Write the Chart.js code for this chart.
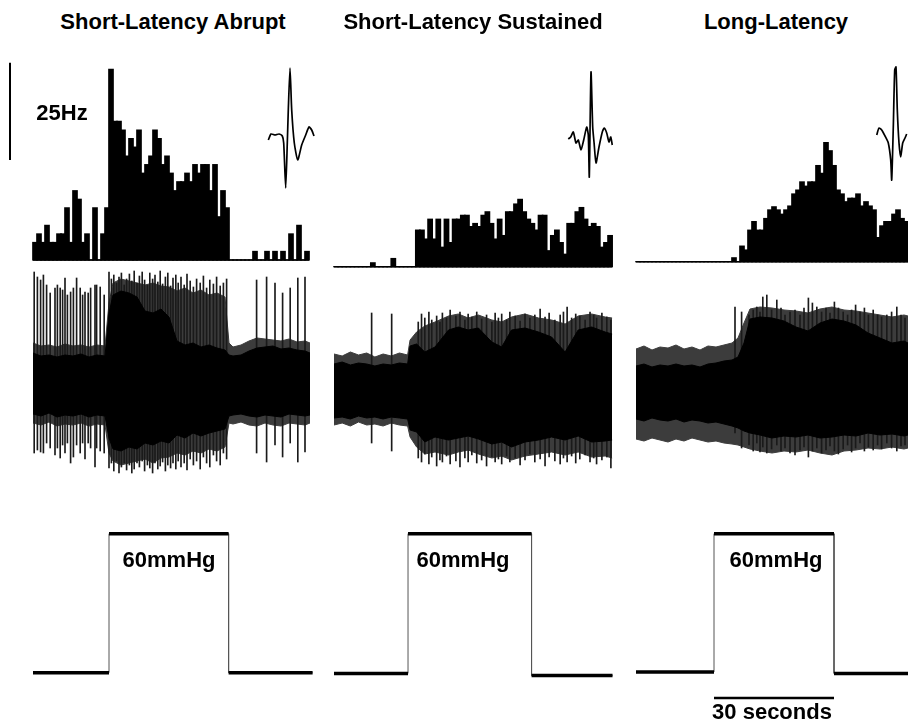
<!DOCTYPE html>
<html><head><meta charset="utf-8">
<script src="https://cdn.jsdelivr.net/npm/chart.js@4.4.0/dist/chart.umd.min.js"></script>
<style>
html,body{margin:0;padding:0;background:#fff;}
#wrap{position:relative;width:908px;height:724px;overflow:hidden;background:#fff;font-family:"Liberation Sans",Arial,sans-serif;font-weight:bold;color:#000;}
#wrap canvas{position:absolute;}
.lbl{position:absolute;font-size:22px;line-height:22px;white-space:nowrap;transform:translate(-50%,-50%);}
</style></head><body><div id="wrap"></div>
<script>
// ---------------- DATA ----------------
const panelTitles = ["Short-Latency Abrupt", "Short-Latency Sustained", "Long-Latency"];
const rateScaleLabel = "25Hz";
const rateScaleHz = 25;
const pressureLabel = "60mmHg";
const timeScaleLabel = "30 seconds";
const timeScaleSec = 30;

// firing-rate histograms (Hz, 1 s bins)
const hist1 = [4.5,6.7,4.5,8.9,4.5,4.5,6.7,6.7,13.4,4.5,17.8,15.6,4.5,6.7,0,13.4,0,6.7,13.4,49.0,35.6,35.6,33.4,26.7,31.2,29.0,33.4,22.3,24.5,26.7,33.4,31.2,24.5,26.7,22.3,17.8,20.1,20.1,22.3,20.1,24.5,22.3,24.5,24.5,17.8,24.5,11.1,17.8,13.4,0,0,0,0,0,0,2.2,0,0,2.2,0,2.2,0,2.2,0,6.7,0,8.9,0,2.2];
const hist2 = [0,0,0,0,0,0,0,0,0,1.0,0,0,0,0,2.1,0,0,0,0,0,9.4,9.4,7.1,12.2,7.1,12.2,5.0,12.2,6.2,12.2,12.2,13.2,13.2,10.3,11.1,10.3,13.2,14.1,11.1,7.1,12.2,8.0,14.1,14.1,16.1,17.3,14.1,12.2,11.1,9.4,13.2,13.2,4.1,8.0,9.4,6.2,3.2,11.1,11.1,14.1,15.2,12.2,10.3,11.1,10.3,5.0,6.2,8.0];
const hist3 = [0,0,0,0,0,0,0,0,0,0,0,0,0,0,0,0,0,0,0,0,0,0,0,0,1.0,0,4.0,3.0,8.1,10.3,8.1,8.1,11.1,13.3,14.1,13.3,12.2,13.3,14.3,17.4,18.4,20.5,19.4,20.5,20.5,24.7,22.7,30.6,28.5,24.7,18.4,17.4,15.4,16.3,16.3,17.4,14.3,15.4,14.3,13.3,6.2,9.2,10.3,10.3,12.2,13.3,11.1,10.3];
const rateScaleTopHz = 50.7;

// mean spike waveforms (time, amplitude a.u.)
const wave1T = [3.3,6,10,14,17.3,18.7,20.7,22.3,23.3,25,26.7,29.3,32.7,36.7,40.7,44,46.7,49];
const wave1V = [0,6,5,6,4,-3,-48,-3,30,72,30,-3,-20,-5,5,13,10,4];
const wave2T = [3.3,5.7,8.3,11,13.3,16,18.7,21.7,23.3,24.3,26,27.7,29,31,34,37.3,39.3,41.7,44,45.7,47.3];
const wave2V = [1,3,8,-3,0,-10,0,13,5,-37,68,13,-2,-23,-7,8,12,7,-2,3,-5];
const wave3T = [6.7,9,11.7,15,18.3,20.7,21.7,23.3,24.7,26,27.3,29,30.7,32.7,35,36.7];
const wave3V = [5,12,10,4,-3,-20,-40,13,70,73,30,-3,-17,-3,2,6];

// raw nerve recordings: dense noise band (core), fuzzy edge, and single spikes (a.u.)
const raw1T = [0,2,4,6,8,10,12,14,16,18,19,20,22,24,26,28,30,32,34,36,38,40,42,44,46,48,49,50,52,54,56,58,60,62,64,66,68,69.25];
const raw1CoreHi = [30,27,28,26,28,27,29,26,28,27,70,88,92,90,86,72,70,74,66,42,38,40,36,38,35,33,28,27,28,32,35,36,37,34,35,33,32,30];
const raw1CoreLo = [-31,-33,-30,-34,-32,-33,-31,-34,-32,-33,-55,-66,-68,-64,-66,-60,-62,-58,-60,-52,-55,-50,-53,-50,-48,-46,-33,-32,-31,-33,-34,-32,-33,-34,-31,-32,-33,-32];
const raw1FuzzHi = [40,37,38,36,39,37,38,36,38,37,80,100,104,102,100,98,100,97,96,92,95,90,93,88,90,86,40,36,38,42,45,44,43,42,44,41,42,40];
const raw1FuzzLo = [-40,-42,-39,-43,-41,-42,-40,-43,-41,-42,-70,-78,-82,-80,-78,-76,-80,-75,-74,-70,-72,-68,-70,-66,-68,-64,-40,-41,-39,-42,-43,-40,-42,-43,-40,-41,-42,-40];
const spike1T = [0.3,1.1,1.9,2.6,3.4,4.3,5.5,6.1,6.8,7.4,8.0,8.6,9.4,10.1,10.9,11.8,12.4,13.0,13.8,14.4,15.5,15.9,16.8,17.8,19.0,19.6,20.2,20.9,21.5,22.1,22.8,23.4,24.1,24.7,25.3,26.0,26.6,27.3,27.9,28.6,29.2,29.9,30.5,31.2,31.8,32.4,33.1,33.7,34.4,35.0,35.7,36.3,37.0,37.8,38.5,39.3,40.1,40.9,41.8,42.6,43.4,44.2,45.1,45.9,46.8,47.6,48.4,55.9,58.4,60.5,62.4,64.3,66.2,68.0];
const spike1Hi = [111,106,103,108,98,90,95,98,95,93,105,88,91,95,105,95,88,91,90,95,98,98,96,88,111,104,108,100,106,110,98,104,109,102,112,100,107,111,103,98,110,104,108,101,112,99,106,110,97,105,108,100,106,98,109,102,96,104,100,107,95,103,99,106,97,100,104,103,106,100,90,95,105,106];
const spike1Lo = [-70,-67,-69,-70,-60,-65,-72,-65,-75,-62,-70,-60,-80,-74,-62,-70,-60,-76,-60,-65,-84,-65,-68,-70,-85,-80,-88,-78,-90,-84,-80,-87,-82,-90,-86,-80,-84,-78,-88,-82,-85,-90,-80,-86,-83,-79,-88,-82,-85,-80,-86,-78,-84,-80,-87,-76,-82,-78,-86,-74,-80,-84,-72,-78,-82,-70,-76,-70,-79,-62,-74,-60,-79,-69];

const raw2T = [0,2,4,6,8,10,12,14,16,18,18.6,20.2,22.2,24.7,28,30.4,32.8,35.3,38.6,41,43.4,46.7,50,53.2,56.5,59.7,63,66.3,68];
const raw2CoreHi = [28,30,27,29,28,26,28,27,29,28,46,48,40,45,62,65,62,64,50,45,62,64,60,55,40,62,65,60,58];
const raw2CoreLo = [-26,-25,-27,-24,-26,-25,-27,-25,-26,-27,-38,-40,-50,-45,-48,-46,-44,-47,-52,-50,-55,-50,-48,-45,-48,-44,-50,-49,-48];
const raw2FuzzHi = [38,36,40,37,39,35,38,36,39,37,52,60,66,70,76,78,74,77,72,70,75,78,74,72,68,76,78,75,74];
const raw2FuzzLo = [-33,-31,-34,-30,-33,-32,-34,-31,-33,-34,-45,-55,-62,-60,-63,-60,-58,-62,-66,-64,-68,-64,-62,-60,-63,-60,-65,-64,-66];
const spike2T = [9.2,14.1,20.6,21.4,22.2,23.2,23.9,25.1,25.9,26.5,27.5,28.4,29.8,30.8,32.0,32.8,33.7,34.9,36.1,37.3,38.6,39.4,40.2,41.0,42.2,43.0,44.3,45.5,46.7,47.9,49.1,50.4,51.6,52.6,54.0,55.3,56.1,57.0,58.1,59.1,60.1,61.4,62.6,63.5,64.2,65.5,66.7,67.7];
const spike2Hi = [79,78,70,78,74,80,72,76,70,79,74,82,76,80,72,78,75,80,73,77,70,79,74,78,72,80,76,71,78,74,77,83,75,79,72,77,80,85,74,78,76,72,80,77,74,79,75,72];
const spike2Lo = [-51,-59,-66,-70,-62,-72,-65,-74,-68,-70,-64,-72,-69,-75,-66,-70,-63,-71,-68,-74,-65,-70,-67,-72,-64,-70,-66,-73,-68,-62,-70,-67,-74,-65,-69,-72,-66,-70,-64,-71,-67,-63,-70,-66,-72,-68,-65,-76];

const raw3T = [0,2,4,6,8,10,12,14,16,18,20,22,24,25.5,27,28.5,31,34,37,40,43,46,49,52,55,58,61,64,67,68];
const raw3CoreHi = [27,29,26,28,27,29,27,28,26,29,30,32,33,36,50,74,76,75,72,66,62,70,74,72,68,60,55,50,52,50];
const raw3CoreLo = [-26,-28,-25,-27,-28,-26,-29,-27,-28,-30,-29,-31,-33,-35,-38,-40,-42,-45,-43,-44,-42,-45,-44,-42,-43,-40,-42,-41,-43,-42];
const raw3FuzzHi = [44,47,43,46,45,48,44,46,43,47,46,48,50,55,70,84,86,85,83,82,80,84,86,83,82,80,78,76,78,77];
const raw3FuzzLo = [-46,-48,-45,-47,-49,-46,-48,-45,-47,-49,-48,-50,-51,-52,-54,-56,-58,-60,-58,-59,-57,-60,-62,-58,-57,-55,-56,-54,-56,-55];
const spike3T = [24.75,26.4,28.25,29.3,30.2,31.0,31.7,32.7,33.9,35.2,36.25,37.25,38.5,39.75,41.0,42.0,43.1,44.1,45.2,46.4,47.5,48.5,49.6,50.6,51.8,52.9,53.9,54.9,56.0,57.1,58.1,59.3,60.4,61.4,62.7,63.9,65.2,66.25,67.25];
const spike3Hi = [86,81,78,83,86,81,96,98,83,93,85,78,81,83,78,85,95,90,86,81,85,80,91,85,81,78,83,88,81,85,78,83,78,76,78,81,86,78,75];
const spike3Lo = [-40,-55,-52,-58,-50,-59,-54,-60,-56,-52,-58,-55,-60,-62,-57,-54,-64,-58,-55,-60,-57,-53,-58,-61,-56,-52,-59,-55,-50,-58,-54,-57,-52,-56,-50,-55,-58,-53,-52];

// pressure step (s, mmHg)
const press1T = [0,19.0,19.0,48.9,48.9,69.9];
const press1P = [0,0,60,60,0,0];
const press2T = [0,18.1,18.1,48.3,48.3,68.1];
const press2P = [-0.3,-0.3,60,60,-1.2,-1.2];
const press3T = [0,19.5,19.5,49.5,49.5,68];
const press3P = [0.3,0.3,60,60,-0.3,-0.3];
const timeBarLevel = -10.9;

// ---------------- LAYOUT ----------------
const L = {
  cols: [
    {x0:33, pxs:4.0,  histY0:260.0, rawY0:383, titleX:173, pressX:169, histRect:[0,55,312,266],   waveRect:[262,58,318,196], waveX0:265, rawRect:[30,262,313,485], pressRect:[28,522,316,688]},
    {x0:334,pxs:4.09, histY0:266.7, rawY0:392, titleX:473, pressX:463, histRect:[330,55,615,272], waveRect:[562,58,618,186], waveX0:565, rawRect:[330,300,615,485], pressRect:[328,522,618,688]},
    {x0:636,pxs:4.0,  histY0:261.7, rawY0:393, titleX:776, pressX:776, histRect:[633,55,908,267], waveRect:[866,58,908,192], waveX0:870, rawRect:[633,280,908,475], pressRect:[630,522,908,705]}
  ],
  hzPx: 3.892, wavePx: 1, waveY0: 140, rawPx: 1, pressY0: 672.7, pressPx: 2.317,
  fuzzColor: '#3c3c3c', spikeColor: '#1a1a1a'
};

const wrap = document.getElementById('wrap');
function label(text, x, y){ const d=document.createElement('div'); d.className='lbl'; d.textContent=text; d.style.left=x+'px'; d.style.top=y+'px'; wrap.appendChild(d); }

function makeChart(rect, x0, kx, y0, ky, datasets){
  const [l,t,r,b] = rect;
  const c = document.createElement('canvas');
  c.width = r-l; c.height = b-t; c.style.left=l+'px'; c.style.top=t+'px';
  c.style.width=(r-l)+'px'; c.style.height=(b-t)+'px';
  wrap.appendChild(c);
  return new Chart(c, {
    type:'bar',
    data:{datasets},
    options:{
      responsive:false, animation:false, devicePixelRatio:1, events:[],
      layout:{padding:0},
      plugins:{legend:{display:false}, tooltip:{enabled:false}},
      scales:{
        x:{type:'linear', display:false, offset:false, min:(l-x0)/kx, max:(r-x0)/kx},
        y:{type:'linear', display:false, min:(y0-b)/ky, max:(y0-t)/ky}
      }
    }
  });
}
const pts = (xs, ys) => xs.map((x,i)=>({x, y:ys[i]}));
const lineDs = (data, o) => Object.assign({type:'line', data, borderColor:'#000', borderWidth:1, pointRadius:0, fill:false, tension:0}, o||{});

const hists = [hist1, hist2, hist3];
const waves = [[wave1T,wave1V],[wave2T,wave2V],[wave3T,wave3V]];
const raws = [
  [raw1T,raw1CoreHi,raw1CoreLo,raw1FuzzHi,raw1FuzzLo,spike1T,spike1Hi,spike1Lo],
  [raw2T,raw2CoreHi,raw2CoreLo,raw2FuzzHi,raw2FuzzLo,spike2T,spike2Hi,spike2Lo],
  [raw3T,raw3CoreHi,raw3CoreLo,raw3FuzzHi,raw3FuzzLo,spike3T,spike3Hi,spike3Lo]
];
const press = [[press1T,press1P],[press2T,press2P],[press3T,press3P]];

L.cols.forEach((col, ci) => {
  // histogram
  const h = hists[ci];
  const hd = [
    {type:'bar', data:h.map((v,i)=>({x:i+0.5, y:v})), backgroundColor:'#000', borderWidth:0, inflateAmount:0.6, barPercentage:1.12, categoryPercentage:1, order:2},
    lineDs([{x:0,y:0},{x:h.length,y:0}], {borderWidth:1.5, order:1})
  ];
  if (ci === 0) {
    const bx = -23/col.pxs;
    hd.push(lineDs([{x:bx,y:rateScaleTopHz-rateScaleHz},{x:bx,y:rateScaleTopHz}], {borderWidth:2, order:1}));
  }
  makeChart(col.histRect, col.x0, col.pxs, col.histY0, L.hzPx, hd);

  // raw trace
  const [T,cHi,cLo,fHi,fLo,sT,sHi,sLo] = raws[ci];
  makeChart(col.rawRect, col.x0, col.pxs, col.rawY0, L.rawPx, [
    lineDs(pts(T,fLo), {borderColor:L.fuzzColor, order:3}),
    lineDs(pts(T,fHi), {borderColor:L.fuzzColor, fill:'-1', backgroundColor:L.fuzzColor, order:3}),
    lineDs(pts(T,cLo), {order:1}),
    lineDs(pts(T,cHi), {fill:'-1', backgroundColor:'#000', order:1}),
    {type:'bar', data:sT.map((t,i)=>({x:t, y:[sLo[i], sHi[i]]})), backgroundColor:L.spikeColor, borderWidth:0, barThickness:1, order:2}
  ]);

  // waveform
  const [wT,wV] = waves[ci];
  makeChart(col.waveRect, col.waveX0, 1, L.waveY0, L.wavePx, [
    lineDs(pts(wT,wV), {borderWidth:1.7, tension:0.2})
  ]);

  // pressure
  const [pT,pP] = press[ci];
  const horiz = [];
  for (let i=0;i<pT.length-1;i++){ if (pT[i]!==pT[i+1]) { horiz.push({x:pT[i],y:pP[i]},{x:pT[i+1],y:pP[i+1]},{x:pT[i+1],y:null}); } }
  const pd = [
    lineDs(pts(pT,pP), {borderColor:'#555', borderWidth:1, order:2}),
    lineDs(horiz, {borderWidth:3.5, spanGaps:false, order:1})
  ];
  if (ci === 2) {
    const tUp = pT[1];
    pd.push(lineDs([{x:tUp,y:timeBarLevel},{x:tUp+timeScaleSec,y:timeBarLevel}], {borderWidth:2.5, order:1}));
  }
  makeChart(col.pressRect, col.x0, col.pxs, L.pressY0, L.pressPx, pd);

  label(panelTitles[ci], col.titleX, 22);
  label(pressureLabel, col.pressX, 560);
});
label(rateScaleLabel, 62, 113);
label(timeScaleLabel, 772, 712);
</script></body></html>
